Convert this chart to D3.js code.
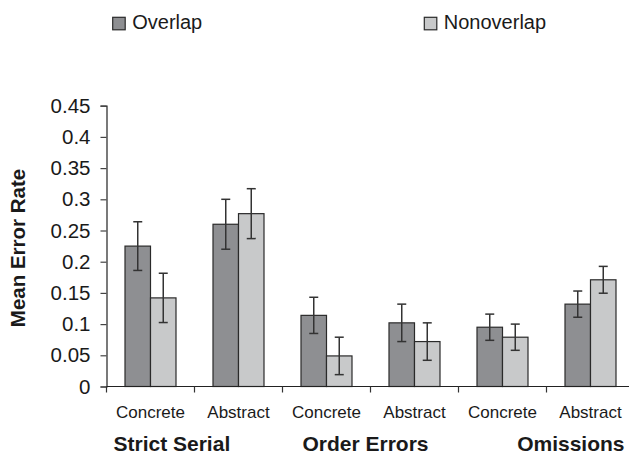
<!DOCTYPE html>
<html>
<head>
<meta charset="utf-8">
<script src="https://cdn.jsdelivr.net/npm/d3@7"></script>
<style>
  body { margin: 0; background: #fff; }
  text { font-family: "Liberation Sans", Arial, sans-serif; fill: #1a1a1a; }
</style>
</head>
<body>
<div id="chart"></div>
<script>
var categories = ["Concrete", "Abstract", "Concrete", "Abstract", "Concrete", "Abstract"];
var groups = ["Strict Serial", "Order Errors", "Omissions"];
var series = ["Overlap", "Nonoverlap"];
var overlap = [0.225, 0.260, 0.114, 0.102, 0.095, 0.132];
var nonoverlap = [0.142, 0.277, 0.049, 0.072, 0.079, 0.171];
var overlapErr = [0.039, 0.040, 0.029, 0.030, 0.021, 0.021];
var nonoverlapErr = [0.0395, 0.040, 0.030, 0.030, 0.021, 0.0215];
var yTicks = [0, 0.05, 0.1, 0.15, 0.2, 0.25, 0.3, 0.35, 0.4, 0.45];
var colors = ["#8e8f92", "#c8c9ca"];

var width = 629, height = 455;
var svg = d3.select("#chart").append("svg")
    .attr("width", width)
    .attr("height", height);

var x = d3.scaleBand()
    .domain(d3.range(categories.length))
    .range([106.5, 634.5]);
var xs = d3.scaleBand()
    .domain(series)
    .range([18.5, 69.5]);
var y = d3.scaleLinear()
    .domain([0, 0.45])
    .range([386.5, 105.7]);

var rows = [];
categories.forEach(function(c, i) {
    rows.push({i: i, s: "Overlap", v: overlap[i], e: overlapErr[i], k: 0});
    rows.push({i: i, s: "Nonoverlap", v: nonoverlap[i], e: nonoverlapErr[i], k: 1});
});

// y axis
var yAxis = svg.append("g")
    .attr("transform", "translate(" + x.range()[0] + ",0)")
    .call(d3.axisLeft(y).tickValues(yTicks).tickSize(6).tickPadding(10)
        .tickFormat(function(d) { return d3.format("")(+d.toFixed(2)); }));
yAxis.select(".domain").attr("stroke", "#222").attr("stroke-width", 1.2);
yAxis.selectAll(".tick line").attr("stroke", "#444").attr("stroke-width", 1.2);
yAxis.selectAll(".tick text")
    .style("font-size", "20.5px")
    .attr("fill", "#1a1a1a");

// bars
svg.append("g").selectAll("rect")
    .data(rows)
    .enter().append("rect")
    .attr("x", function(d) { return x(d.i) + xs(d.s); })
    .attr("y", function(d) { return y(d.v); })
    .attr("width", xs.bandwidth())
    .attr("height", function(d) { return y(0) - y(d.v); })
    .attr("fill", function(d) { return colors[d.k]; })
    .attr("stroke", "#2a2a2a")
    .attr("stroke-width", 1.2);

// error bars
var eb = svg.append("g").selectAll("g")
    .data(rows)
    .enter().append("g")
    .attr("stroke", "#333")
    .attr("stroke-width", 1.5);
eb.append("line")
    .attr("x1", function(d) { return x(d.i) + xs(d.s) + xs.bandwidth() / 2; })
    .attr("x2", function(d) { return x(d.i) + xs(d.s) + xs.bandwidth() / 2; })
    .attr("y1", function(d) { return y(d.v + d.e); })
    .attr("y2", function(d) { return y(d.v - d.e); });
[1, -1].forEach(function(sign) {
    eb.append("line")
        .attr("x1", function(d) { return x(d.i) + xs(d.s) + xs.bandwidth() / 2 - 4.5; })
        .attr("x2", function(d) { return x(d.i) + xs(d.s) + xs.bandwidth() / 2 + 4.5; })
        .attr("y1", function(d) { return y(d.v + sign * d.e); })
        .attr("y2", function(d) { return y(d.v + sign * d.e); });
});

// x axis
var xAxis = svg.append("g");
xAxis.append("line")
    .attr("x1", x.range()[0]).attr("x2", x.range()[1])
    .attr("y1", y(0)).attr("y2", y(0))
    .attr("stroke", "#222").attr("stroke-width", 1.2);
xAxis.selectAll(".xtick")
    .data(d3.range(categories.length + 1))
    .enter().append("line")
    .attr("x1", function(d) { return x.range()[0] + d * x.bandwidth(); })
    .attr("x2", function(d) { return x.range()[0] + d * x.bandwidth(); })
    .attr("y1", y(0)).attr("y2", y(0) + 6)
    .attr("stroke", "#333").attr("stroke-width", 1.2);
xAxis.selectAll(".cat")
    .data(categories)
    .enter().append("text")
    .attr("x", function(d, i) { return x(i) + x.bandwidth() / 2; })
    .attr("y", 417.7)
    .attr("text-anchor", "middle")
    .style("font-size", "17px")
    .text(function(d) { return d; });

// group labels
var gAnchor = ["start", "middle", "end"];
xAxis.selectAll(".grp")
    .data(groups)
    .enter().append("text")
    .attr("x", function(d, i) {
        if (i === 0) return x(0) + 7;
        if (i === groups.length - 1) return x(categories.length - 1) + x.bandwidth() - 10;
        return x(i * 2) + x.bandwidth() - 5;
    })
    .attr("y", 450.5)
    .attr("text-anchor", function(d, i) { return gAnchor[i]; })
    .style("font-size", "21px")
    .style("font-weight", "bold")
    .text(function(d) { return d; });

// y title
svg.append("text")
    .attr("transform", "translate(25,248) rotate(-90)")
    .attr("text-anchor", "middle")
    .style("font-size", "20.5px")
    .style("font-weight", "bold")
    .text("Mean Error Rate");

// legend
var legendX = [112.7, 424.3];
var lg = svg.append("g").selectAll("g")
    .data(series)
    .enter().append("g")
    .attr("transform", function(d, i) { return "translate(" + legendX[i] + ",17.3)"; });
lg.append("rect")
    .attr("width", 12.5).attr("height", 12.5)
    .attr("fill", function(d, i) { return colors[i]; })
    .attr("stroke", "#2a2a2a").attr("stroke-width", 1.2);
lg.append("text")
    .attr("x", 19.5).attr("y", 11.8)
    .style("font-size", "20px")
    .text(function(d) { return d; });
</script>
</body>
</html>
